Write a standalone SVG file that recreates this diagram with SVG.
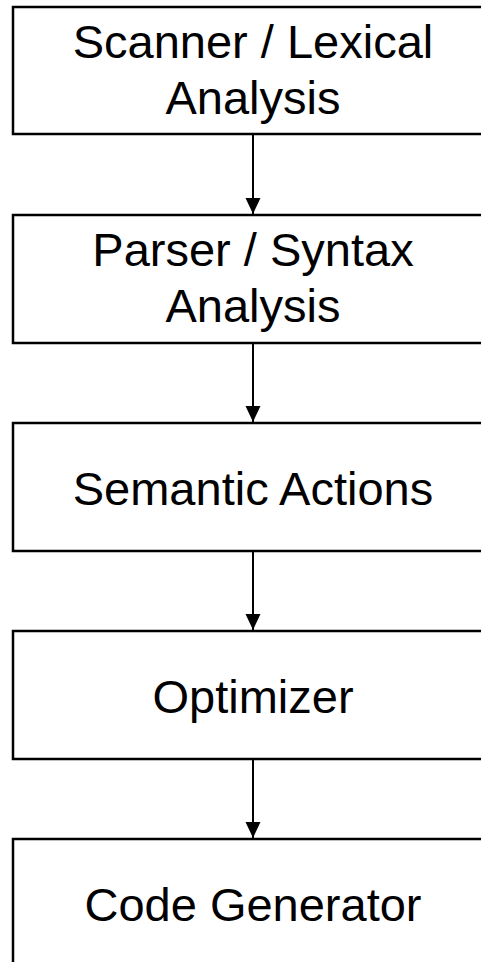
<svg xmlns="http://www.w3.org/2000/svg" width="481" height="962" viewBox="0 0 481 962">
<style>
.box{fill:#fff;stroke:#000;stroke-width:2.5}
.lbl{font-family:"Liberation Sans",Arial,sans-serif;font-size:47px;fill:#000;text-anchor:middle}
.conn{stroke:#000;stroke-width:2;fill:none}
</style>
<defs>
<marker id="ah" markerWidth="16" markerHeight="16" viewBox="0 0 16 16" refX="16" refY="8" orient="auto" markerUnits="userSpaceOnUse">
<path d="M0,0.5 L16,8 L0,15.5 Z" fill="#000"/>
</marker>
</defs>
<rect width="481" height="962" fill="#fff"/>
<g id="scanner">
<rect class="box" x="13" y="7" width="480" height="127"/>
<text class="lbl" x="253" y="58">Scanner / Lexical</text>
<text class="lbl" x="253" y="114">Analysis</text>
</g>
<g id="parser">
<rect class="box" x="13" y="215" width="480" height="128"/>
<text class="lbl" x="253" y="266">Parser / Syntax</text>
<text class="lbl" x="253" y="322">Analysis</text>
</g>
<g id="semantic">
<rect class="box" x="13" y="423" width="480" height="128"/>
<text class="lbl" x="253" y="505">Semantic Actions</text>
</g>
<g id="optimizer">
<rect class="box" x="13" y="631" width="480" height="128"/>
<text class="lbl" x="253" y="713">Optimizer</text>
</g>
<g id="codegen">
<rect class="box" x="13" y="839" width="480" height="140"/>
<text class="lbl" x="253" y="921">Code Generator</text>
</g>
<g id="connectors">
<line class="conn" x1="253" y1="134" x2="253" y2="214" marker-end="url(#ah)"/>
<line class="conn" x1="253" y1="343" x2="253" y2="422" marker-end="url(#ah)"/>
<line class="conn" x1="253" y1="551" x2="253" y2="630" marker-end="url(#ah)"/>
<line class="conn" x1="253" y1="759" x2="253" y2="838" marker-end="url(#ah)"/>
</g>
</svg>
